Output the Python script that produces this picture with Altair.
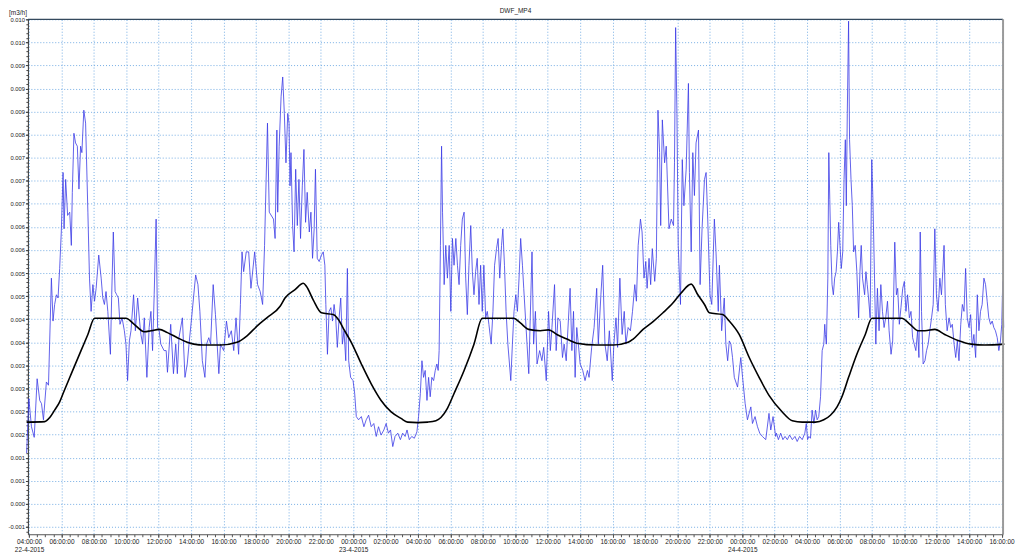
import json
import altair as alt
import pandas as pd

# ---------------- data (hours after 22-4-2015 04:00, flow in m3/h) ----------------
blue_hours = [
    -0.15, -0.01, 0.15, 0.32, 0.50, 0.66, 0.77, 0.89, 1.07, 1.20, 1.38, 1.48, 1.58, 1.69, 1.79, 1.89, 1.99,
    2.10, 2.16, 2.26, 2.38, 2.51, 2.61, 2.67, 2.77, 2.87, 2.98, 3.08, 3.18, 3.26, 3.38, 3.49, 3.63, 3.73,
    3.83, 3.94, 4.04, 4.14, 4.30, 4.45, 4.55, 4.65, 4.75, 4.86, 5.02, 5.10, 5.20, 5.31, 5.41, 5.51, 5.61,
    5.74, 5.88, 5.98, 6.08, 6.19, 6.29, 6.45, 6.56, 6.70, 6.82, 6.90, 7.01, 7.11, 7.27, 7.41, 7.52, 7.62,
    7.72, 7.84, 7.93, 8.03, 8.13, 8.33, 8.46, 8.54, 8.74, 8.91, 9.05, 9.15, 9.25, 9.46, 9.62, 9.76, 9.87,
    10.03, 10.28, 10.42, 10.54, 10.69, 10.85, 10.95, 11.09, 11.20, 11.36, 11.50, 11.71, 11.81, 12.01, 12.18,
    12.32, 12.48, 12.63, 12.77, 12.93, 13.04, 13.14, 13.24, 13.40, 13.55, 13.69, 13.92, 14.10, 14.26, 14.41,
    14.53, 14.71, 14.82, 15.08, 15.18, 15.29,
    15.34, 15.43, 15.55, 15.65, 15.75, 15.85, 15.96, 16.04, 16.10, 16.16, 16.26, 16.35, 16.45, 16.55, 16.65,
    16.75, 16.86, 16.96, 17.06, 17.16, 17.29, 17.39, 17.49, 17.59, 17.67, 17.78, 17.90, 18.04, 18.15, 18.25,
    18.31, 18.41, 18.51, 18.62, 18.72, 18.82, 18.92, 19.02, 19.13, 19.23, 19.33, 19.43, 19.54, 19.64, 19.72,
    19.84, 19.99, 20.09, 20.19, 20.33, 20.50, 20.66, 20.80, 20.95, 21.11, 21.27, 21.42, 21.56, 21.72, 21.89,
    22.03, 22.17, 22.30, 22.44, 22.58, 22.75, 22.91, 23.05, 23.20, 23.32, 23.46, 23.61, 23.77, 23.93, 24.03,
    24.14, 24.24, 24.34, 24.44, 24.55, 24.65, 24.75, 24.85, 24.96, 25.06, 25.16, 25.24, 25.30, 25.38, 25.45,
    25.51, 25.61, 25.71, 25.81, 25.92, 26.02, 26.12, 26.22, 26.33, 26.43, 26.53, 26.63, 26.73, 26.84, 26.94,
    27.04, 27.14, 27.25, 27.35, 27.45, 27.55, 27.65, 27.76, 27.86, 27.96, 28.06, 28.17, 28.27, 28.37, 28.51,
    28.62, 28.72, 28.84, 28.94, 29.04, 29.15, 29.23, 29.33, 29.43, 29.54, 29.64, 29.72, 29.82, 29.92, 30.03,
    30.13, 30.23, 30.33, 30.44,
    30.52, 30.83, 31.03, 31.13, 31.24, 31.34, 31.50, 31.64, 31.75, 31.91, 32.05, 32.16, 32.26, 32.42, 32.52,
    32.63, 32.77, 32.91, 33.01, 33.14, 33.38, 33.49, 33.59, 33.69, 33.79, 33.89, 34.00, 34.16, 34.30, 34.45,
    34.55, 34.71, 34.86, 35.02, 35.12, 35.28, 35.39, 35.53, 35.67, 35.80, 35.98, 36.08, 36.21, 36.31, 36.45,
    36.59, 36.72, 36.82, 36.96, 37.10, 37.23, 37.37, 37.47, 37.58, 37.72, 37.82, 37.94, 38.05, 38.13, 38.25,
    38.35, 38.45, 38.60, 38.70, 38.80, 38.90, 38.97, 39.07, 39.21, 39.31, 39.48, 39.62, 39.76, 39.82, 39.89,
    39.97, 40.05, 40.19, 40.30, 40.40, 40.54, 40.68, 40.74, 40.85, 40.95, 41.05, 41.15, 41.30, 41.40, 41.52,
    41.67, 41.77, 41.87, 42.01, 42.12, 42.28, 42.38, 42.52, 42.59, 42.73, 42.89, 42.99, 43.10, 43.20, 43.30,
    43.40, 43.51, 43.71, 43.91, 44.02, 44.18, 44.32, 44.53, 44.63, 44.79, 44.94, 45.08, 45.24, 45.45, 45.65,
    45.76, 45.90, 46.06,
    46.11, 46.23, 46.37, 46.51, 46.64, 46.78, 46.92, 47.09, 47.25, 47.39, 47.54, 47.70, 47.86, 47.95, 48.03,
    48.11, 48.21, 48.31, 48.42, 48.52, 48.62, 48.72, 48.83, 48.93, 49.03, 49.09, 49.13, 49.19, 49.28, 49.34,
    49.40, 49.46, 49.54, 49.62, 49.70, 49.79, 49.87, 49.95, 50.03, 50.11, 50.20, 50.28, 50.36, 50.42, 50.48,
    50.56, 50.62, 50.71, 50.79, 50.87, 50.97, 51.07, 51.18, 51.26, 51.34, 51.42, 51.55, 51.63, 51.71, 51.79,
    51.89, 51.99, 52.06, 52.16, 52.24, 52.34, 52.44, 52.55, 52.65, 52.75, 52.85, 52.96, 53.06, 53.18, 53.28,
    53.41, 53.51, 53.59, 53.69, 53.79, 53.90, 54.00, 54.10, 54.20, 54.31, 54.41, 54.51, 54.61, 54.71, 54.82,
    54.90, 54.98, 55.06, 55.16, 55.27, 55.37, 55.47, 55.57, 55.68, 55.78, 55.88, 55.98, 56.08, 56.19, 56.29,
    56.37, 56.45, 56.53, 56.64, 56.76, 56.86, 56.96, 57.07, 57.17, 57.27, 57.37, 57.48, 57.58, 57.68, 57.78,
    57.88, 57.99, 58.09, 58.19, 58.29, 58.40, 58.50, 58.60, 58.70, 58.80, 58.91, 59.01, 59.11, 59.21, 59.32,
    59.42, 59.52, 59.62, 59.73, 59.83, 59.93, 60.01, 60.07, 60.13,
]
blue_flow = [
    0.00060, 0.00178, 0.00117, 0.00094, 0.00221, 0.00174, 0.00167, 0.00132, 0.00214, 0.00207, 0.00439, 0.00346,
    0.00382, 0.00403, 0.00396, 0.00460, 0.00539, 0.00668, 0.00546, 0.00653, 0.00575, 0.00582, 0.00510, 0.00625,
    0.00753, 0.00732, 0.00725, 0.00632, 0.00725, 0.00711, 0.00803, 0.00775, 0.00582, 0.00439, 0.00367, 0.00425,
    0.00389, 0.00417, 0.00489, 0.00439, 0.00396, 0.00382, 0.00410, 0.00367, 0.00274, 0.00403, 0.00539, 0.00410,
    0.00403, 0.00396, 0.00339, 0.00353, 0.00325, 0.00296, 0.00217, 0.00303, 0.00325, 0.00403, 0.00325, 0.00396,
    0.00346, 0.00317, 0.00296, 0.00353, 0.00224, 0.00332, 0.00367, 0.00282, 0.00403, 0.00567, 0.00332, 0.00325,
    0.00296, 0.00282, 0.00282, 0.00235, 0.00339, 0.00232, 0.00296, 0.00232, 0.00310, 0.00353, 0.00224, 0.00253,
    0.00296, 0.00353, 0.00446, 0.00425, 0.00367, 0.00260, 0.00224, 0.00296, 0.00310, 0.00296, 0.00425, 0.00360,
    0.00232, 0.00296, 0.00282, 0.00346, 0.00310, 0.00325, 0.00282, 0.00353, 0.00274, 0.00382, 0.00496, 0.00453,
    0.00496, 0.00496, 0.00417, 0.00496, 0.00425, 0.00410, 0.00382, 0.00510, 0.00775, 0.00582, 0.00567, 0.00525,
    0.00760,
    0.00582, 0.00725, 0.00832, 0.00875, 0.00796, 0.00689, 0.00796, 0.00775, 0.00639, 0.00711, 0.00553, 0.00496,
    0.00675, 0.00553, 0.00653, 0.00525, 0.00639, 0.00718, 0.00560, 0.00625, 0.00539, 0.00582, 0.00482, 0.00546,
    0.00675, 0.00482, 0.00475, 0.00489, 0.00496, 0.00467, 0.00382, 0.00274, 0.00367, 0.00375, 0.00346, 0.00382,
    0.00353, 0.00289, 0.00353, 0.00396, 0.00296, 0.00325, 0.00260, 0.00460, 0.00260, 0.00224, 0.00217, 0.00189,
    0.00139, 0.00132, 0.00139, 0.00117, 0.00132, 0.00142, 0.00117, 0.00124, 0.00096, 0.00117, 0.00099, 0.00110,
    0.00124, 0.00103, 0.00110, 0.00074, 0.00096, 0.00103, 0.00089, 0.00103, 0.00096, 0.00110, 0.00089, 0.00096,
    0.00092, 0.00106, 0.00139, 0.00189, 0.00260, 0.00224, 0.00239, 0.00174, 0.00224, 0.00182, 0.00224, 0.00217,
    0.00239, 0.00253, 0.00239, 0.00282, 0.00510, 0.00725, 0.00582, 0.00425, 0.00510, 0.00439, 0.00510, 0.00367,
    0.00525, 0.00467, 0.00525, 0.00467, 0.00425, 0.00510, 0.00567, 0.00582, 0.00439, 0.00360, 0.00467, 0.00553,
    0.00453, 0.00403, 0.00453, 0.00482, 0.00382, 0.00467, 0.00367, 0.00467, 0.00353, 0.00367, 0.00339, 0.00296,
    0.00367, 0.00467, 0.00503, 0.00525, 0.00439, 0.00510, 0.00546, 0.00467, 0.00367, 0.00296, 0.00253, 0.00217,
    0.00296, 0.00367, 0.00403, 0.00367, 0.00439, 0.00525, 0.00467,
    0.00417, 0.00232, 0.00496, 0.00296, 0.00367, 0.00253, 0.00282, 0.00260, 0.00289, 0.00217, 0.00367, 0.00282,
    0.00332, 0.00425, 0.00282, 0.00353, 0.00346, 0.00267, 0.00296, 0.00260, 0.00417, 0.00282, 0.00367, 0.00224,
    0.00332, 0.00296, 0.00253, 0.00239, 0.00217, 0.00239, 0.00224, 0.00289, 0.00332, 0.00417, 0.00296, 0.00403,
    0.00467, 0.00296, 0.00260, 0.00325, 0.00217, 0.00296, 0.00353, 0.00289, 0.00439, 0.00317, 0.00367, 0.00296,
    0.00332, 0.00325, 0.00367, 0.00425, 0.00389, 0.00510, 0.00567, 0.00539, 0.00439, 0.00475, 0.00417, 0.00482,
    0.00425, 0.00503, 0.00432, 0.00482, 0.00803, 0.00711, 0.00553, 0.00782, 0.00689, 0.00725, 0.00546, 0.00567,
    0.00553, 0.00689, 0.00982, 0.00796, 0.00510, 0.00382, 0.00696, 0.00596, 0.00675, 0.00861, 0.00668, 0.00496,
    0.00711, 0.00618, 0.00732, 0.00760, 0.00425, 0.00546, 0.00653, 0.00668, 0.00567, 0.00403, 0.00382, 0.00567,
    0.00496, 0.00367, 0.00467, 0.00325, 0.00396, 0.00296, 0.00260, 0.00303, 0.00296, 0.00267, 0.00224, 0.00203,
    0.00267, 0.00224, 0.00167, 0.00132, 0.00160, 0.00124, 0.00139, 0.00117, 0.00103, 0.00096, 0.00089, 0.00146,
    0.00110, 0.00139, 0.00096,
    0.00103, 0.00089, 0.00103, 0.00089, 0.00096, 0.00089, 0.00099, 0.00089, 0.00096, 0.00085, 0.00096, 0.00089,
    0.00103, 0.00124, 0.00089, 0.00096, 0.00092, 0.00153, 0.00124, 0.00153, 0.00132, 0.00139, 0.00182, 0.00282,
    0.00296, 0.00339, 0.00317, 0.00296, 0.00439, 0.00711, 0.00610, 0.00510, 0.00425, 0.00403, 0.00439, 0.00453,
    0.00496, 0.00560, 0.00510, 0.00460, 0.00496, 0.00653, 0.00739, 0.00596, 0.00796, 0.00996, 0.00739, 0.00653,
    0.00596, 0.00496, 0.00510, 0.00453, 0.00353, 0.00453, 0.00510, 0.00439, 0.00403, 0.00453, 0.00425, 0.00396,
    0.00353, 0.00696, 0.00610, 0.00439, 0.00296, 0.00417, 0.00325, 0.00425, 0.00367, 0.00332, 0.00353, 0.00389,
    0.00325, 0.00274, 0.00303, 0.00517, 0.00403, 0.00417, 0.00339, 0.00375, 0.00417, 0.00432, 0.00367, 0.00403,
    0.00353, 0.00367, 0.00310, 0.00296, 0.00282, 0.00325, 0.00267, 0.00539, 0.00367, 0.00253, 0.00260, 0.00282,
    0.00296, 0.00325, 0.00353, 0.00382, 0.00546, 0.00403, 0.00367, 0.00439, 0.00403, 0.00453, 0.00510, 0.00382,
    0.00325, 0.00353, 0.00332, 0.00339, 0.00296, 0.00267, 0.00303, 0.00260, 0.00339, 0.00382, 0.00367, 0.00460,
    0.00353, 0.00332, 0.00360, 0.00289, 0.00317, 0.00267, 0.00403, 0.00325, 0.00367, 0.00382, 0.00439, 0.00425,
    0.00389, 0.00353, 0.00339, 0.00346, 0.00332, 0.00325, 0.00310, 0.00282, 0.00303, 0.00339, 0.00432, 0.00332,
]

model_hours = [
    -0.15, 0.97, 1.28, 1.58, 1.89, 2.10, 2.61, 3.22, 3.63, 4.04, 5.98, 6.49, 7.11, 7.52, 8.03, 8.54, 9.15,
    9.76, 10.17, 10.79, 11.81, 12.83, 13.45, 14.06, 14.67, 15.49, 15.79, 16.41, 16.92, 17.12, 17.53, 18.04,
    18.76, 19.07, 19.47, 19.88, 20.50, 21.11, 21.72, 22.34, 22.95, 23.36, 23.97, 24.59, 25.10, 25.41, 25.81,
    26.22, 26.84, 27.45, 27.96, 29.90, 30.31, 30.82, 31.54, 32.05, 32.56, 33.18, 33.79, 35.02, 36.04, 36.96,
    37.27, 37.88, 38.50, 39.11, 39.72, 40.23, 40.85, 41.26, 41.67, 41.97, 42.79, 43.20, 43.81, 44.43, 45.04,
    45.65, 46.47, 47.09, 47.70, 48.52, 49.03, 49.44, 49.85, 50.15, 50.56, 51.07, 51.59, 52.00, 53.84, 54.35,
    54.86, 55.27, 55.88, 56.49, 57.31, 58.13, 58.95, 60.17,
]
model_flow = [
    0.00127, 0.00128, 0.00137, 0.00153, 0.00171, 0.00189, 0.00232, 0.00283, 0.00317, 0.00352, 0.00352, 0.00339,
    0.00323, 0.00325, 0.00328, 0.00321, 0.00310, 0.00300, 0.00296, 0.00294, 0.00294, 0.00300, 0.00314, 0.00335,
    0.00353, 0.00378, 0.00396, 0.00414, 0.00428, 0.00421, 0.00392, 0.00364, 0.00360, 0.00350, 0.00325, 0.00300,
    0.00253, 0.00210, 0.00174, 0.00149, 0.00135, 0.00127, 0.00126, 0.00127, 0.00130, 0.00137, 0.00157, 0.00189,
    0.00239, 0.00296, 0.00352, 0.00352, 0.00342, 0.00328, 0.00325, 0.00327, 0.00317, 0.00307, 0.00298, 0.00294,
    0.00294, 0.00300, 0.00307, 0.00328, 0.00345, 0.00364, 0.00385, 0.00407, 0.00426, 0.00403, 0.00382, 0.00364,
    0.00360, 0.00346, 0.00317, 0.00267, 0.00224, 0.00185, 0.00149, 0.00130, 0.00127, 0.00127, 0.00132, 0.00142,
    0.00160, 0.00182, 0.00224, 0.00274, 0.00317, 0.00352, 0.00352, 0.00339, 0.00325, 0.00325, 0.00328, 0.00317,
    0.00304, 0.00296, 0.00294, 0.00296,
]

y_tick_labels = ["-0.001", "0.000", "0.001", "0.001", "0.002", "0.002", "0.003", "0.003", "0.004", "0.004",
                 "0.005", "0.005", "0.006", "0.006", "0.007", "0.007", "0.007", "0.008", "0.009", "0.009",
                 "0.009", "0.010", "0.010"]

# ---------------- layout / styling ----------------
LEFT, TOP = 28.0, 18.0          # plot-area origin on the page
W, H = 980.0, 517.5
FONT = "Liberation Sans"
GRID = "#76ade4"

df_blue = pd.DataFrame({"h": blue_hours, "q": blue_flow})
df_model = pd.DataFrame({"h": model_hours, "q": model_flow})
df_one = pd.DataFrame({"a": [0]})

x_major = list(range(0, 61, 2))
x_minor = [i * 0.5 for i in range(0, 121)]
y_major = [round(-0.001 + 0.0005 * k, 6) for k in range(23)]
y_minor = [round(-0.0011 + 0.0001 * k, 6) for k in range(112)]

xscale = alt.Scale(domain=[-0.07, 60.09], nice=False, zero=False)
yscale = alt.Scale(domain=[-0.00116, 0.0100], nice=False, zero=False)

hh = "((datum.value + 4) % 24)"
time_txt = f"(({hh} < 10) ? '0' : '') + {hh} + ':00:00'"
date_txt = "(22 + floor((datum.value + 4) / 24)) + '-4-2015'"
x_label_expr = f"(datum.value == 0 || {hh} == 0) ? [{time_txt}, {date_txt}] : {time_txt}"
y_label_expr = f"{json.dumps(y_tick_labels)}[round((datum.value + 0.001) / 0.0005)]"

x_axis_major = alt.Axis(
    values=x_major, labelExpr=x_label_expr, grid=True, gridColor=GRID, gridDash=[1, 2],
    gridWidth=1, gridOpacity=1, ticks=True, tickColor="#444", tickSize=3, domain=True,
    domainColor="#555", domainWidth=1, labelFont=FONT, labelFontSize=6.5, labelColor="#222",
    labelPadding=1, labelLineHeight=8, labelBaseline="top", labelAlign="center",
    labelOverlap=False, labelFlush=False, title=None, orient="bottom",
)
y_axis_major = alt.Axis(
    values=y_major, labelExpr=y_label_expr, grid=True, gridColor=GRID, gridDash=[1, 2],
    gridWidth=1, gridOpacity=1, ticks=True, tickColor="#333", tickSize=2.5, domain=True,
    domainColor="#333", domainWidth=1, labelFont=FONT, labelFontSize=5.8, labelColor="#222",
    labelPadding=1, labelOverlap=False, labelFlush=False, orient="left",
    title="[m3/h]", titleAngle=0, titleX=8.5 - LEFT, titleY=-7, titleAlign="left",
    titleBaseline="middle", titleFont=FONT, titleFontSize=6.5, titleFontWeight="normal",
    titleColor="#222",
)
x_axis_minor = alt.Axis(values=x_minor, labels=False, grid=False, domain=False, ticks=True,
                        tickSize=2.5, tickColor="#555", title=None, orient="bottom")
y_axis_minor = alt.Axis(values=y_minor, labels=False, grid=False, domain=False, ticks=True,
                        tickSize=2, tickColor="#444", title=None, orient="left")

blue = alt.Chart(df_blue).mark_line(color="#3a3ae6", strokeWidth=0.8).encode(
    x=alt.X("h:Q", scale=xscale, axis=x_axis_major),
    y=alt.Y("q:Q", scale=yscale, axis=y_axis_major),
)
model = alt.Chart(df_model).mark_line(color="#000000", strokeWidth=1.6, interpolate="monotone").encode(
    x=alt.X("h:Q", scale=xscale, axis=x_axis_minor),
    y=alt.Y("q:Q", scale=yscale, axis=y_axis_minor),
)
top_border = alt.Chart(df_one).mark_rule(color="#34495e", strokeWidth=1.2).encode(
    x=alt.value(0), x2=alt.value(W), y=alt.value(0)
)
right_border = alt.Chart(df_one).mark_rule(color="#9a9a9a", strokeWidth=2).encode(
    x=alt.value(W), y=alt.value(0), y2=alt.value(H)
)

chart = (
    alt.layer(blue, model, top_border, right_border)
    .resolve_axis(x="independent", y="independent")
    .properties(
        width=W,
        height=H,
        autosize=alt.AutoSizeParams(type="none"),
        padding={"left": LEFT - 8, "top": TOP - 8, "right": 12, "bottom": 18.5},
        title=alt.TitleParams("DWF_MP4", font=FONT, fontSize=6.5, fontWeight="normal",
                              color="#222", anchor="middle", frame="group", offset=5, dy=10),
        background="white",
    )
    .configure_view(stroke=None)
)

chart.save("out.html", embed_options={"renderer": "svg", "actions": False})
